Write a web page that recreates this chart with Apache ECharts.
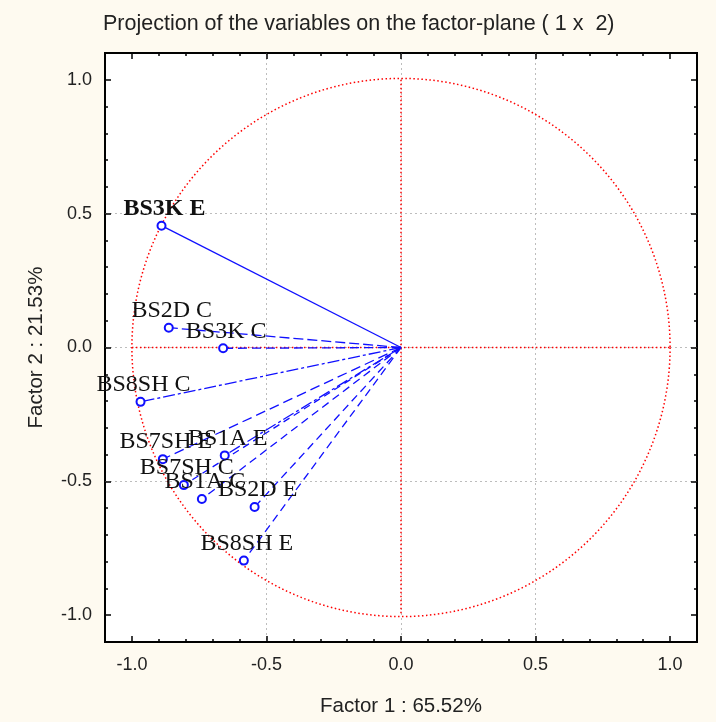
<!DOCTYPE html>
<html>
<head>
<meta charset="utf-8">
<script src="https://cdn.jsdelivr.net/npm/echarts@6/dist/echarts.min.js"></script>
<style>
html, body { margin: 0; padding: 0; background: #fefaf0; }
#chart { width: 716px; height: 722px; }
</style>
</head>
<body>
<div id="chart"></div>
<script>
// variable coordinates on the factor plane
var names = ['BS3K E', 'BS2D C', 'BS3K C', 'BS8SH C', 'BS7SH E', 'BS1A E', 'BS7SH C', 'BS1A C', 'BS2D E', 'BS8SH E'];
var factor1 = [-0.89, -0.863, -0.661, -0.968, -0.885, -0.655, -0.807, -0.740, -0.544, -0.584];
var factor2 = [0.455, 0.074, -0.003, -0.203, -0.417, -0.403, -0.514, -0.566, -0.596, -0.796];
var tickValues = [-1, -0.5, 0, 0.5, 1];

var lineTypes = ['solid', [10, 4], [9, 5], [12, 3, 3, 3], [10, 5], [12, 3, 3, 3], [7, 5], [8, 5], [8, 5], [8, 5]];

var chart = echarts.init(document.getElementById('chart'));

var labelFont = { fontFamily: 'Liberation Sans', fontSize: 18, color: '#222' };
var nameFont = { fontFamily: 'Liberation Sans', fontSize: 20.5, color: '#222' };

function frameAxis(pos, major, withLabels, name) {
	var ax = {
		type: 'value',
		position: pos,
		min: -1.1,
		max: 1.1,
		axisLine: { show: false, onZero: false },
		axisTick: { show: true, inside: true, length: major ? 6 : 3, lineStyle: { color: '#000', width: 1.5 } },
		axisLabel: { show: false },
		splitLine: { show: false }
	};
	if (major) {
		ax.axisTick.customValues = tickValues;
	} else {
		ax.interval = 0.1;
	}
	if (withLabels) {
		ax.axisLabel = Object.assign({ show: true, margin: 13, customValues: tickValues,
			formatter: function (v) { return v.toFixed(1); } }, labelFont);
		ax.splitLine = { show: true, showMinLine: false, showMaxLine: false,
			lineStyle: { color: '#bdbdbd', type: [2, 3], width: 1 } };
		ax.name = name;
		ax.nameLocation = 'middle';
		ax.nameTextStyle = nameFont;
	}
	return ax;
}

var xAxes = [
	frameAxis('bottom', true, true, 'Factor 1 : 65.52%'),
	frameAxis('bottom', false),
	frameAxis('top', true),
	frameAxis('top', false)
];
xAxes[0].nameGap = 54;
xAxes[0].axisLabel.margin = 14;

var yAxes = [
	frameAxis('left', true, true, 'Factor 2 : 21.53%'),
	frameAxis('left', false),
	frameAxis('right', true),
	frameAxis('right', false)
];
yAxes[0].nameGap = 58;
yAxes[0].nameRotate = 90;

// unit circle and red cross through the origin
function drawGuides(params, api) {
	var c = api.coord([0, 0]);
	var r = api.size([1, 1]);
	var l = api.coord([-1, 0]), rr = api.coord([1, 0]);
	var t = api.coord([0, 1]), b = api.coord([0, -1]);
	var st = { stroke: '#ff0000', fill: 'none', lineWidth: 1.5, lineDash: [1.5, 2.5] };
	return {
		type: 'group',
		children: [
			{ type: 'circle', shape: { cx: c[0], cy: c[1], r: r[0] }, style: st },
			{ type: 'line', shape: { x1: l[0], y1: l[1], x2: rr[0], y2: rr[1] }, style: st },
			{ type: 'line', shape: { x1: t[0], y1: t[1], x2: b[0], y2: b[1] }, style: st }
		]
	};
}

var series = [{
	type: 'custom',
	renderItem: drawGuides,
	data: [[0, 0]],
	silent: true,
	z: 1
}];

names.forEach(function (n, i) {
	series.push({
		type: 'line',
		name: n,
		z: 3,
		silent: true,
		lineStyle: { color: '#1010ff', width: 1.3, type: lineTypes[i] },
		itemStyle: { color: '#1010ff', borderColor: '#1010ff', borderWidth: 1.5 },
		symbol: 'emptyCircle',
		symbolSize: 8,
		data: [
			{ value: [0, 0], symbol: 'none' },
			{
				value: [factor1[i], factor2[i]],
				label: {
					show: true,
					position: 'top',
					distance: 0,
					offset: [3, 0],
					formatter: n,
					fontFamily: 'Liberation Serif',
					fontSize: 24,
					fontWeight: i === 0 ? 'bold' : 'normal',
					color: '#111'
				}
			}
		]
	});
});

chart.setOption({
	backgroundColor: '#fefaf0',
	animation: false,
	title: {
		text: 'Projection of the variables on the factor-plane ( 1 x  2)',
		left: 98,
		top: 8,
		textStyle: { fontFamily: 'Liberation Sans', fontSize: 21.5, fontWeight: 'normal', color: '#222' }
	},
	grid: {
		left: 105,
		top: 53,
		width: 592,
		height: 590,
		show: true,
		backgroundColor: '#fff',
		borderColor: '#000',
		borderWidth: 2
	},
	xAxis: xAxes,
	yAxis: yAxes,
	series: series
});
</script>
</body>
</html>
